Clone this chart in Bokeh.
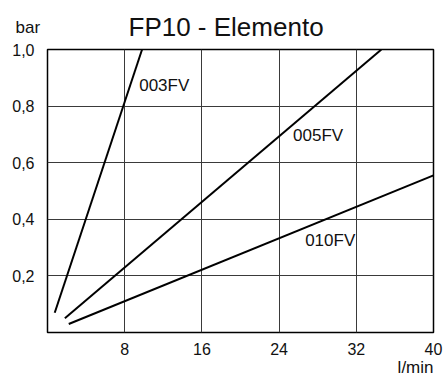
from bokeh.plotting import figure
from bokeh.models import Range1d, FixedTicker, Label, ColumnDataSource
from bokeh.embed import file_html
from bokeh.resources import INLINE
from bokeh.core.properties import value

# ---- data ----
series_names = ["003FV", "005FV", "010FV"]
flow_003 = [0.75, 9.8]
dp_003 = [0.07, 1.0]
flow_005 = [1.8, 34.6]
dp_005 = [0.05, 1.0]
flow_010 = [2.2, 40.0]
dp_010 = [0.03, 0.555]
label_x = [9.5, 25.45, 26.7]
label_y = [0.873, 0.697, 0.325]
x_ticks = [8, 16, 24, 32, 40]
y_ticks = [0.2, 0.4, 0.6, 0.8, 1.0]
y_tick_labels = ["0,2", "0,4", "0,6", "0,8", "1,0"]
title_text = "FP10 - Elemento"
y_unit = "bar"
x_unit = "l/min"

FONT = "Liberation Sans"
INK = "#111111"

p = figure(width=443, height=379, output_backend="svg", toolbar_location=None,
           x_range=Range1d(0, 40), y_range=Range1d(0, 1.0),
           min_border_left=47, min_border_right=10, min_border_top=45, min_border_bottom=47)
p.background_fill_color = "white"
p.border_fill_color = "white"
p.outline_line_color = "black"
p.outline_line_width = 1.5
p.title.visible = False

for ax in (p.xaxis[0], p.yaxis[0]):
    ax.axis_line_color = None
    ax.major_tick_line_color = None
    ax.minor_tick_line_color = None
    ax.major_label_text_font = FONT
    ax.major_label_text_font_size = "16px"
    ax.major_label_text_color = INK

p.xaxis.ticker = FixedTicker(ticks=x_ticks)
p.xaxis.major_label_standoff = 4
p.yaxis.ticker = FixedTicker(ticks=y_ticks)
p.yaxis.major_label_overrides = {t: l for t, l in zip(y_ticks, y_tick_labels)}
p.yaxis.major_label_standoff = 7

p.xgrid.ticker = FixedTicker(ticks=x_ticks)
p.ygrid.ticker = FixedTicker(ticks=y_ticks)
for g in (p.xgrid[0], p.ygrid[0]):
    g.grid_line_color = "#3a3a3a"
    g.grid_line_width = 1

for xs, ys in ((flow_003, dp_003), (flow_005, dp_005), (flow_010, dp_010)):
    p.line(xs, ys, line_color="black", line_width=2)

src = ColumnDataSource(dict(x=label_x, y=label_y, t=series_names))
p.text(x="x", y="y", text="t", source=src, text_font=value(FONT),
       text_font_size="17px", text_baseline="middle", text_align="left",
       text_color=INK)

p.add_layout(Label(x=-32, y=22.5, x_units="screen", y_units="screen", text=y_unit,
                   text_font=FONT, text_font_size="17px", text_baseline="alphabetic",
                   text_line_height=0.8,
                   text_align="left", text_color=INK), "above")
p.add_layout(Label(x=81, y=4, x_units="screen", y_units="screen", text=title_text,
                   text_font=FONT, text_font_size="26px", text_baseline="alphabetic",
                   text_line_height=0.8,
                   text_align="left", text_color=INK), "above")
p.add_layout(Label(x=386, y=9, x_units="screen", y_units="screen", text=x_unit,
                   text_font=FONT, text_font_size="17px", text_baseline="alphabetic",
                   text_align="right", text_color=INK), "below")

open("out.html", "w").write(file_html(p, INLINE))
